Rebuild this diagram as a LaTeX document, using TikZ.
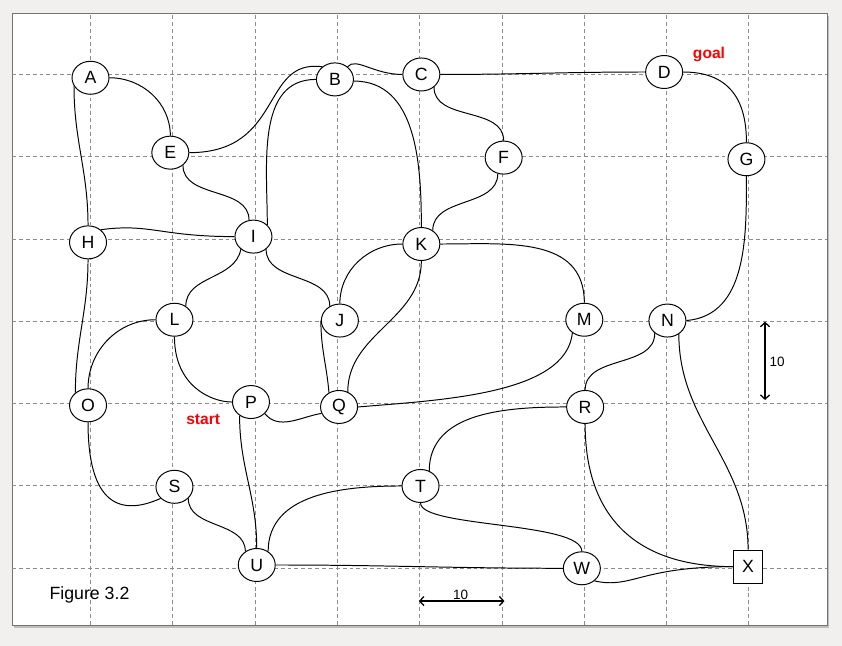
\documentclass[tikz,border=0pt]{standalone}
\usepackage{fontspec}
\setmainfont{Liberation Sans}
\usetikzlibrary{shapes.geometric,arrows.meta,shadows}
\definecolor{pagegray}{RGB}{241,240,239}
\definecolor{gridgray}{RGB}{140,140,140}

\begin{document}
\begin{tikzpicture}[x=2.0575cm,y=2.0575cm,
    town/.style={ellipse,draw,fill=white,line width=0.7pt,
      minimum width=0.925cm,minimum height=0.825cm,inner sep=0pt,
      font=\fontsize{12.6}{15}\selectfont},
    square town/.style={rectangle,draw,fill=white,line width=0.7pt,
      minimum width=0.725cm,minimum height=0.825cm,inner sep=0pt,
      font=\fontsize{12.6}{15}\selectfont},
    road/.style={line width=0.7pt},
    gridline/.style={gridgray,line width=0.7pt,dash pattern=on 2.8pt off 2.1pt},
    redlabel/.style={text=red,inner sep=0pt,font=\bfseries\fontsize{11.1}{13}\selectfont},
    scalebar/.style={<->,>={Straight Barb[length=3pt,width=6.5pt]},line width=0.9pt},
    scalenum/.style={inner sep=0pt,font=\fontsize{9.6}{11}\selectfont}]

\fill[pagegray] (-1.0996,-0.944) rectangle (9.131,6.905);
\draw[draw=black!55,fill=white,line width=0.6pt,
  drop shadow={shadow xshift=1.5pt,shadow yshift=-1.8pt,opacity=0.45}]
  (-0.954,-0.689) rectangle (8.949,6.747);

% grid, one square = 10
\foreach \c in {0,...,8}
  \draw[gridline] (\c,-0.689) -- (\c,6.747);
\foreach \r in {0,...,6}
  \draw[gridline] (-0.954,\r) -- (8.949,\r);

% towns
\node[town] (A) at (0.00,5.96) {A};
\node[town] (B) at (2.97,5.94) {B};
\node[town] (C) at (4.02,6.00) {C};
\node[town] (D) at (6.97,6.03) {D};
\node[town] (E) at (0.97,5.05) {E};
\node[town] (F) at (5.02,4.99) {F};
\node[town] (G) at (7.97,4.97) {G};
\node[town] (H) at (-0.03,3.96) {H};
\node[town] (I) at (1.98,4.03) {I};
\node[town] (J) at (3.03,3.01) {J};
\node[town] (K) at (4.02,3.94) {K};
\node[town] (L) at (1.02,3.02) {L};
\node[town] (M) at (6.00,3.02) {M};
\node[town] (N) at (7.01,3.01) {N};
\node[town] (O) at (-0.03,1.98) {O};
\node[town] (P) at (1.95,2.02) {P};
\node[town] (Q) at (3.02,1.96) {Q};
\node[town] (R) at (6.01,1.96) {R};
\node[town] (S) at (1.02,0.99) {S};
\node[town] (T) at (4.01,1.00) {T};
\node[town] (U) at (2.02,0.04) {U};
\node[town] (W) at (5.97,0.00) {W};
\node[square town] (X) at (7.99,0.02) {X};

% roads
\draw[road] (A.east) to[out=0,in=90] (E.north);
\draw[road] (A.207) to[out=-90,in=90] (H.north);
\draw[road] (E.east) .. controls +(1.15,0) and +(-0.75,0.1) .. (B.135);
\draw[road] (I.40) to[out=90,in=180] (B.west);
\draw[road] (B.45) .. controls +(0.1,0.12) and +(-0.35,0) .. (C.west);
\draw[road] (C.east) to[out=0,in=180] (D.west);
\draw[road] (C.-45) to[out=-90,in=90] (F.north);
\draw[road] (D.east) to[out=0,in=90,looseness=1.2] (G.north);
\draw[road] (G.south) to[out=-90,in=5] (N.east);
\draw[road] (E.-45) to[out=-90,in=90] (I.105);
\draw[road] (H.45) .. controls +(0.6,0.08) and +(-0.9,0) .. (I.west);
\draw[road] (B.-5) to[out=0,in=90] (K.north);
\draw[road] (I.-45) to[out=-90,in=90] (J.125);
\draw[road] (I.-135) to[out=-100,in=90] (L.50);
\draw[road] (K.west) to[out=180,in=90] (J.north);
\draw[road] (K.50) to[out=90,in=-90] (F.-110);
\draw[road] (K.south) to[out=-90,in=90] (Q.60);
\draw[road] (K.east) to[out=0,in=90,looseness=1.1] (M.north);
\draw[road] (J.west) to[out=-90,in=95] (Q.125);
\draw[road] (L.west) to[out=180,in=90] (O.north);
\draw[road] (L.south) .. controls +(0,-0.6) and +(-0.25,0) .. (P.west);
\draw[road] (H.south) to[out=-90,in=90] (O.135);
\draw[road] (O.south) .. controls +(0,-1.0) and +(-0.49,-0.22) .. (S.220);
\draw[road] (S.-40) to[out=-90,in=90] (U.130);
\draw[road] (P.230) to[out=-90,in=90] (U.north);
\draw[road] (P.-40) to[out=-50,in=190] (Q.200);
\draw[road] (Q.east) .. controls +(1.0,0.085) and +(-0.08,-0.75) .. (M.228);
\draw[road] (U.50) to[out=90,in=180] (T.west);
\draw[road] (U.east) to[out=0,in=180] (W.west);
\draw[road] (T.south) .. controls +(0,-0.3) and +(0,0.36) .. (W.north);
\draw[road] (T.60) to[out=90,in=180] (R.west);
\draw[road] (N.-135) to[out=-90,in=90] (R.north);
\draw[road] (N.-50) to[out=-90,in=90] (X.north);
\draw[road] (R.south) .. controls +(0,-1.14) and +(-1.17,0) .. (X.west);
\draw[road] (W.-45) .. controls +(0.46,-0.1) and +(-1.14,0) .. (X.west);

% labels
\node[redlabel,anchor=base west] (goal) at (7.317,6.188) {goal};
\node[redlabel,anchor=base west] (start) at (1.16,1.753) {start};
\node[anchor=base west,inner sep=0pt,font=\fontsize{12.6}{15}\selectfont] (fig) at (-0.50,-0.377) {Figure 3.2};

% scale
\coordinate (hl) at (3.99,-0.398);
\coordinate (hr) at (5.03,-0.398);
\draw[scalebar] (hl) -- (hr);
\node[scalenum,anchor=base] (hnum) at (4.496,-0.377) {10};
\coordinate (vt) at (8.196,2.996);
\coordinate (vb) at (8.196,2.045);
\draw[scalebar] (vt) -- (vb);
\node[scalenum,anchor=base west] (vnum) at (8.248,2.450) {10};

\end{tikzpicture}
\end{document}
